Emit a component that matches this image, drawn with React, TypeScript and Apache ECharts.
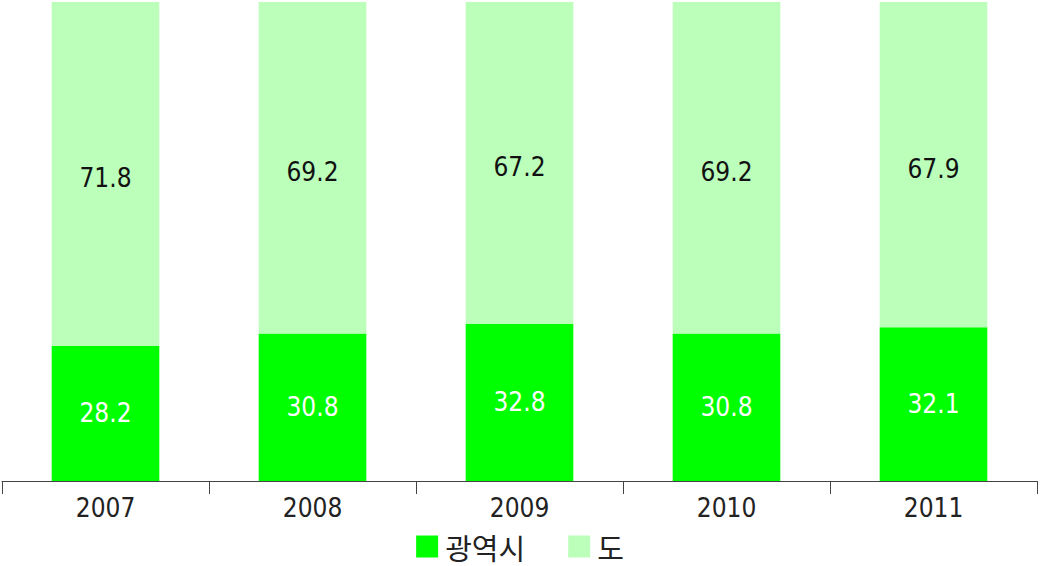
import React, { useEffect, useRef } from "react";
import * as echarts from "echarts";

const categories = ["2007", "2008", "2009", "2010", "2011"];
const metroValues = [28.2, 30.8, 32.8, 30.8, 32.1];
const provinceValues = [71.8, 69.2, 67.2, 69.2, 67.9];
const seriesNames = ["광역시", "도"];

const FONT = "'Liberation Sans Narrow', 'DejaVu Sans Condensed', 'Noto Sans CJK KR', sans-serif";

export default function App() {
  const ref = useRef<HTMLDivElement>(null);
  useEffect(() => {
    if (!ref.current) return;
    const chart = echarts.init(ref.current, null, { renderer: "svg" });
    chart.setOption({
      animation: false,
      grid: { left: 2, right: 3, top: 2, bottom: 85, containLabel: false },
      legend: {
        data: seriesNames,
        bottom: 0,
        left: "center",
        itemWidth: 22,
        itemHeight: 22,
        itemGap: 43,
        icon: "rect",
        textStyle: { fontSize: 29, color: "#222", fontFamily: "'Noto Sans CJK KR', sans-serif", padding: [0, 0, 0, 2] },
      },
      xAxis: {
        type: "category",
        data: categories,
        boundaryGap: true,
        axisLine: { lineStyle: { color: "#444", width: 1 } },
        axisTick: { show: true, length: 13, alignWithLabel: false, lineStyle: { color: "#444" } },
        axisLabel: { fontSize: 26, color: "#222", margin: 14, fontFamily: FONT },
      },
      yAxis: {
        type: "value",
        min: 0,
        max: 100,
        show: false,
        splitLine: { show: false },
      },
      series: [
        {
          name: seriesNames[0],
          type: "bar",
          stack: "total",
          data: metroValues,
          barWidth: "52%",
          itemStyle: { color: "#00ff00" },
          label: {
            show: true,
            position: "inside",
            color: "#ffffff",
            fontSize: 26,
            fontFamily: FONT,
            formatter: (p: any) => p.value.toFixed(1),
          },
        },
        {
          name: seriesNames[1],
          type: "bar",
          stack: "total",
          data: provinceValues,
          barWidth: "52%",
          itemStyle: { color: "#bbffbb" },
          label: {
            show: true,
            position: "inside",
            offset: [0, 4],
            color: "#111",
            fontSize: 26,
            fontFamily: FONT,
            formatter: (p: any) => p.value.toFixed(1),
          },
        },
      ],
    });
    return () => chart.dispose();
  }, []);
  return <div ref={ref} style={{ width: 1040, height: 566, position: "absolute", left: 0, top: 0 }} />;
}
